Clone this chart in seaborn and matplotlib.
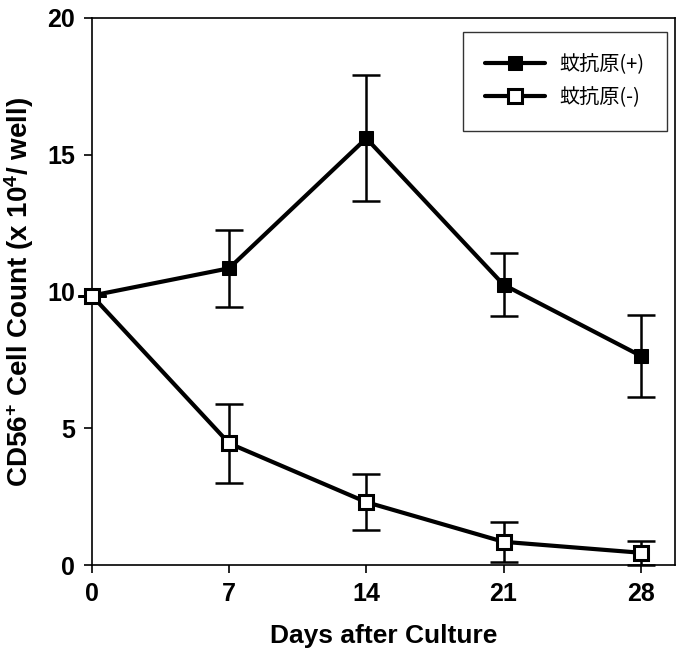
import matplotlib
matplotlib.use('Agg')
import matplotlib.pyplot as plt
import seaborn as sns

# values
days = [0, 7, 14, 21, 28]
antigen_plus = [9.85, 10.85, 15.6, 10.25, 7.65]
antigen_plus_err = [0.0, 1.4, 2.3, 1.15, 1.5]
antigen_minus = [9.85, 4.45, 2.3, 0.85, 0.45]
antigen_minus_err = [0.0, 1.45, 1.02, 0.72, 0.44]
labels = ['蚊抗原(+)', '蚊抗原(-)']

sns.set_style('ticks')
plt.rcParams['font.family'] = ['Liberation Sans', 'DejaVu Sans']
plt.rcParams['mathtext.fontset'] = 'custom'
plt.rcParams['mathtext.rm'] = 'Liberation Sans:bold'
plt.rcParams['mathtext.it'] = 'Liberation Sans:bold'
plt.rcParams['mathtext.bf'] = 'Liberation Sans:bold'
for key in ['text.color', 'axes.labelcolor', 'xtick.color', 'ytick.color', 'axes.edgecolor']:
    plt.rcParams[key] = 'black'

fig = plt.figure(figsize=(6.76, 6.54), dpi=100)
ax = fig.add_axes([0.136, 0.136, 0.8625, 0.8365])

# error bars first, lines/markers on top
ax.errorbar(days, antigen_plus, yerr=antigen_plus_err, fmt='none', ecolor='black',
            elinewidth=1.8, capsize=10, capthick=1.8, zorder=2, clip_on=False)
ax.errorbar(days, antigen_minus, yerr=antigen_minus_err, fmt='none', ecolor='black',
            elinewidth=1.8, capsize=10, capthick=1.8, zorder=2, clip_on=False)

sns.lineplot(x=days, y=antigen_plus, ax=ax, color='black', lw=3, marker='s',
             markersize=10, markerfacecolor='black', markeredgecolor='black',
             label=labels[0], zorder=3, clip_on=False)
sns.lineplot(x=days, y=antigen_minus, ax=ax, color='black', lw=3, marker='s',
             markersize=10, markerfacecolor='white', markeredgecolor='black',
             markeredgewidth=2.2, label=labels[1], zorder=4, clip_on=False)

ax.set_xlim(0, 29.75)
ax.set_ylim(0, 20)
ax.set_xticks(days)
ax.set_yticks([0, 5, 10, 15, 20])
ax.tick_params(direction='out', length=6, width=1.2, labelsize=18, pad=6)
for lab in ax.get_xticklabels() + ax.get_yticklabels():
    lab.set_fontweight('bold')

for side in ['left', 'bottom', 'top', 'right']:
    ax.spines[side].set_visible(True)
    ax.spines[side].set_linewidth(1.2)

ax.set_xlabel('Days after Culture', fontsize=19, fontweight='bold', labelpad=13)
ax.set_ylabel('CD56$^{+}$ Cell Count (x 10$^{4}$/ well)', fontsize=20,
              fontweight='bold', labelpad=8)

leg = ax.legend(loc='upper right', bbox_to_anchor=(0.986, 0.974), borderaxespad=0,
                frameon=True, fancybox=False, edgecolor='black', handlelength=3.0,
                borderpad=1.1, labelspacing=0.6, handletextpad=0.7,
                prop={'family': ['Noto Sans CJK JP', 'DejaVu Sans'], 'size': 14.5})
leg.get_frame().set_linewidth(1.0)

plt.savefig('out.png', dpi=100)
